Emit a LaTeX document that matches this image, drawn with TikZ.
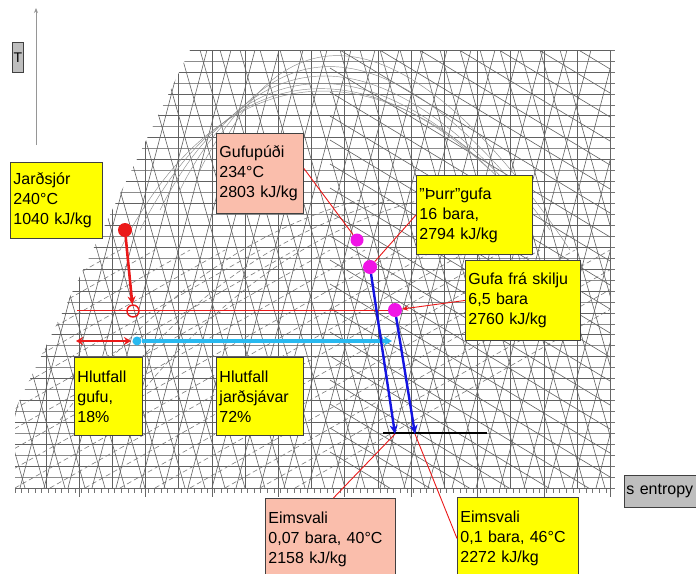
\documentclass[tikz,border=0pt]{standalone}
\usepackage{fontspec}
\setmainfont{Liberation Sans}
\usetikzlibrary{arrows.meta}
\definecolor{boxyellow}{RGB}{255,255,0}
\definecolor{salmon}{RGB}{250,190,172}
\definecolor{boxgray}{RGB}{190,190,190}
\definecolor{dotmag}{RGB}{240,20,230}
\definecolor{myred}{RGB}{235,25,25}
\definecolor{mycyan}{RGB}{40,185,240}
\definecolor{myblue}{RGB}{20,20,225}
\definecolor{axisgray}{RGB}{150,150,150}
\begin{document}
\begin{tikzpicture}[x=1pt,y=-1pt,
  chartline/.style={draw=black!62,line width=0.6pt},
  chartfine/.style={draw=black!45,line width=0.45pt},
  chartdash/.style={draw=black!55,line width=0.55pt,dash pattern=on 5pt off 3pt},
  infobox/.style={draw=black!75,line width=0.9pt,anchor=north west,align=left,
    inner sep=3pt,font=\fontsize{16}{20}\selectfont},
  ybox/.style={infobox,fill=boxyellow},
  sbox/.style={infobox,fill=salmon},
  gbox/.style={infobox,fill=boxgray},
  magdot/.style={circle,fill=dotmag,inner sep=0pt,minimum size=#1},
  thinred/.style={draw=myred,line width=0.9pt},
  thickred/.style={draw=myred,line width=2.6pt},
  bluearrow/.style={draw=myblue,line width=2.4pt,-{Stealth[length=9pt,width=8pt]}},
]
\useasboundingbox (0,0) rectangle (696,573);
\clip (0,0) rectangle (696,573);
\fill[white] (0,0) rectangle (696,573);

% ---------- background chart ----------
\begin{scope}
\clip (190,50) -- (610,50) -- (610,488) -- (15,488) -- (15,410) -- cycle;
\foreach \y in {50,71.9,...,490} \draw[chartline] (0,\y) -- (700,\y);
\foreach \y in {61,82.9,...,490} \draw[chartfine] (0,\y) -- (700,\y);
\foreach \x in {12.6,45.8,...,612} \draw[chartline] (\x,0) -- (\x,600);
\foreach \x in {-220,-196,...,640} \draw[chartline] (\x,488) -- (\x+115,50);
\foreach \x in {-160,-140,...,560} \draw[chartline] (\x,50) -- (\x+125,488);
\foreach \y in {-100,-76,...,470} \draw[chartline] (330,\y) -- (620,\y+175);
\foreach \x in {-300,-265,...,300} \draw[chartdash] (\x,488) -- (\x+420,250);
\foreach \d in {0,20,...,100}
  \draw[chartfine] (120+\d,250-\d) .. controls (200+\d,90-\d) and (330+\d,40) .. (470+\d,150+\d);
\foreach \d in {0,30,60}
  \draw[chartdash] (60+\d,420) .. controls (150+\d,300) and (250+\d,230) .. (360+\d,200);
\end{scope}
\foreach \x in {15,21.64,...,611} \draw[black!55,line width=0.5pt] (\x,488) -- (\x,493);
\foreach \x in {79,145.4,...,611} \draw[black!60,line width=0.6pt] (\x,488) -- (\x,497);
\foreach \y in {50,60.95,...,489} \draw[black!55,line width=0.5pt] (610,\y) -- (615,\y);
\draw[black!60,line width=0.7pt] (15,488) -- (610,488) -- (610,50);

% ---------- T axis ----------
\coordinate (tax0) at (36,145);
\coordinate (tax1) at (36,8);
\draw[axisgray,line width=1pt,-{Stealth[length=5pt,width=4pt]}] (tax0) -- (tax1);
\node[gbox,minimum width=11pt,minimum height=30pt,inner sep=0pt,align=center,
  font=\fontsize{14}{16}\selectfont] (tbox) at (12,42) {T};

% ---------- boxes ----------
\node[ybox,text width=86pt,minimum height=76pt] (jard) at (10,162)
  {Jarðsjór\\240°C\\1040 kJ/kg};
\node[sbox,text width=81pt,minimum height=80pt] (gufup) at (216,133)
  {Gufupúði\\234°C\\2803 kJ/kg};
\node[ybox,text width=110pt,minimum height=79pt] (thurr) at (416,175)
  {"Þurr"gufa\\16 bara,\\2794 kJ/kg};
\node[ybox,text width=109pt,minimum height=80pt] (skilja) at (465,260)
  {Gufa frá skilju\\6,5 bara\\2760 kJ/kg};
\node[ybox,text width=62pt,minimum height=78pt] (hgufu) at (74,357)
  {Hlutfall\\gufu,\\18\%};
\node[ybox,text width=81pt,minimum height=78pt] (hjard) at (216,357)
  {Hlutfall\\jarðsjávar\\72\%};
\node[sbox,text width=124pt,minimum height=82pt] (eims1) at (265,498)
  {Eimsvali\\0,07 bara, 40°C\\2158 kJ/kg};
\node[ybox,text width=115pt,minimum height=82pt] (eims2) at (457,497)
  {Eimsvali\\0,1 bara, 46°C\\2272 kJ/kg};
\node[gbox,text width=74pt,minimum height=32pt,inner sep=2pt] (sent) at (624,475)
  {s entropy};

% ---------- points ----------
\node[circle,fill=myred,inner sep=0pt,minimum size=14pt] (rdot) at (125,230) {};
\node[circle,draw=myred,line width=1.4pt,inner sep=0pt,minimum size=12pt] (ocirc) at (133,311) {};
\node[magdot=13pt] (m1) at (357,240) {};
\node[magdot=14pt] (m2) at (370,267) {};
\node[magdot=14pt] (m3) at (395,310) {};
\node[circle,fill=mycyan,inner sep=0pt,minimum size=9pt] (cdot) at (137,341) {};

\coordinate (hl0) at (77,310);
\coordinate (da1) at (76,341);
\coordinate (da2) at (131,341);
\coordinate (cy1) at (392,341);
\coordinate (b1) at (395,434);
\coordinate (b2) at (415,434);
\coordinate (bl1) at (383,433);
\coordinate (bl2) at (487,433);

% ---------- connectors ----------
\draw[thinred] (hl0) -- (m3);
\draw[thickred,-{Stealth[length=8pt,width=8pt]}] (rdot) -- (ocirc);
\draw[thickred,{Stealth[length=7pt,width=8pt]}-{Stealth[length=7pt,width=8pt]}] (da1) -- (da2);
\draw[draw=mycyan,line width=3.4pt,-{Stealth[length=8pt,width=9pt]}] (cdot) -- (cy1);
\draw[black,line width=2.4pt] (bl1) -- (bl2);
\draw[bluearrow] (m2) -- (b1);
\draw[bluearrow] (m3) -- (b2);
\draw[thinred] ([yshift=5pt]gufup.east) -- (m1);
\draw[thinred] (m2) -- (thurr.west);
\draw[thinred,-{Stealth[length=6pt,width=5pt]}] (skilja.west) -- (m3);
\draw[thinred] ([xshift=3pt]eims1.north) -- (b1);
\draw[thinred] (eims2.west) -- (b2);
\end{tikzpicture}
\end{document}
